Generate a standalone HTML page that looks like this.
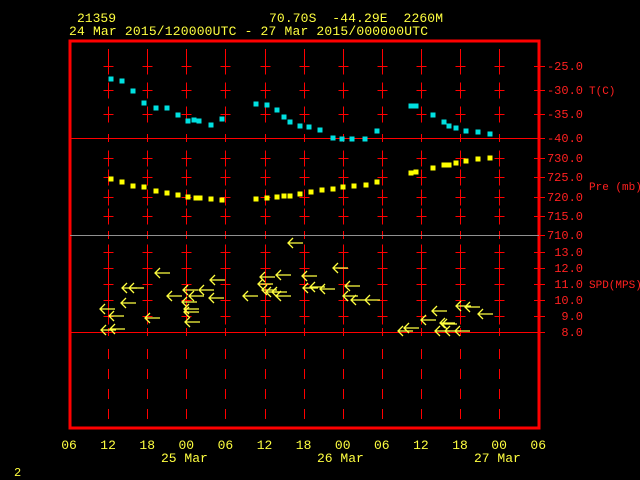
<!DOCTYPE html>
<html><head><meta charset="utf-8"><style>
html,body{margin:0;padding:0;background:#000;width:640px;height:480px;overflow:hidden}
text{font-family:"Liberation Mono",monospace}
</style></head><body>
<svg width="640" height="480" xmlns="http://www.w3.org/2000/svg" id="s">
<rect width="640" height="480" fill="#000"/>
<g fill="#ffff40" font-size="13">
<text x="77" y="22" textLength="39">21359</text>
<text x="269" y="22" textLength="174" xml:space="preserve">70.70S  -44.29E  2260M</text>
<text x="69" y="35" textLength="359">24 Mar 2015/120000UTC - 27 Mar 2015/000000UTC</text>
<text x="14" y="476" font-size="12">2</text>
</g>
<g id="grid" stroke="#ff0000" stroke-width="1" fill="none" shape-rendering="crispEdges"></g>
<rect x="70" y="41" width="469" height="387" fill="none" stroke="#ff0000" stroke-width="3" shape-rendering="crispEdges"/>
<g stroke="#ff0000" stroke-width="1" shape-rendering="crispEdges">
<line x1="70" y1="138.5" x2="539" y2="138.5"/>
<line x1="70" y1="235.5" x2="539" y2="235.5" stroke="#909090"/>
<line x1="70" y1="332.5" x2="539" y2="332.5"/>
</g>
<g id="rl" fill="#ff2020" font-size="12"></g>
<g fill="#ff2020" font-size="11">
<text x="589" y="94">T(C)</text>
<text x="589" y="190">Pre (mb)</text>
<text x="589" y="288">SPD(MPS)</text>
</g>
<g id="xl" fill="#ffff40" font-size="13"></g>
<g fill="#ffff40" font-size="13">
<text x="161" y="462">25 Mar</text>
<text x="317" y="462">26 Mar</text>
<text x="474" y="462">27 Mar</text>
</g>
<g id="T" fill="#00e0e0"></g>
<g id="P" fill="#ffff00"></g>
<g id="W" stroke="#ffff40" stroke-width="1.3" fill="none"></g>
</svg>
<script>
var NS="http://www.w3.org/2000/svg";
function el(p,t,a,txt){var e=document.createElementNS(NS,t);for(var k in a)e.setAttribute(k,a[k]);if(txt)e.textContent=txt;document.getElementById(p).appendChild(e);}
var ys=[66,90,114,158,177,197,216,252,268,284,300,316];
var xs=[];for(var i=1;i<12;i++)xs.push(Math.round(69+i*39.1)+0.5);
xs.forEach(function(x){
 el("grid","line",{x1:x,y1:49,x2:x,y2:59});
 ys.forEach(function(y){y+=0.5;el("grid","line",{x1:x,y1:y-8,x2:x,y2:y+8});el("grid","line",{x1:x-5,y1:y,x2:x+5,y2:y});});
 [138,235,332].forEach(function(y){el("grid","line",{x1:x,y1:y-4,x2:x,y2:y+4});});
 [349,369,389,409].forEach(function(y){el("grid","line",{x1:x,y1:y,x2:x,y2:y+10});});
});
var lab=["-25.0","-30.0","-35.0","-40.0","730.0","725.0","720.0","715.0","710.0","13.0","12.0","11.0","10.0","9.0","8.0"];
var ly=[66,90,114,138,158,177,197,216,235,252,268,284,300,316,332];
lab.forEach(function(t,i){el("grid","line",{x1:534,y1:ly[i]+0.5,x2:545,y2:ly[i]+0.5});el("rl","text",{x:583,y:ly[i]+4,"text-anchor":"end"},t);});
var xt=["06","12","18","00","06","12","18","00","06","12","18","00","06"];
xt.forEach(function(t,i){el("xl","text",{x:69+i*39.1,y:449,"text-anchor":"middle"},t);});
var T=[[111,79],[122,81],[133,91],[144,103],[156,108],[167,108],[178,115],[188,121],[194,120],[199,121],[211,125],[222,119],[256,104],[267,105],[277,110],[284,117],[290,122],[300,126],[309,127],[320,130],[333,138],[342,139],[352,139],[365,139],[377,131],[411,106],[416,106],[433,115],[444,122],[449,126],[456,128],[466,131],[478,132],[490,134]];
T.forEach(function(p){el("T","rect",{x:p[0]-2.5,y:p[1]-2.5,width:5,height:5});});
var P=[[111,179],[122,182],[133,186],[144,187],[156,191],[167,193],[178,195],[188,197],[196,198],[200,198],[211,199],[222,200],[256,199],[267,198],[277,197],[284,196],[290,196],[300,194],[311,192],[322,190],[333,189],[343,187],[354,186],[366,185],[377,182],[411,173],[416,172],[433,168],[444,165],[449,165],[456,163],[466,161],[478,159],[490,158]];
P.forEach(function(p){el("P","rect",{x:p[0]-2.5,y:p[1]-2.5,width:5,height:5});});
var W=[[100,309],[109,316],[101,330],[110,329],[122,288],[129,288],[121,303],[145,318],[155,273],[167,296],[183,290],[182,302],[184,309],[184,312],[185,322],[189,296],[199,290],[209,298],[210,280],[243,296],[258,284],[260,277],[262,290],[266,292],[276,275],[272,292],[276,296],[288,243],[302,276],[303,288],[310,287],[320,289],[333,268],[343,296],[345,286],[351,300],[365,300],[398,331],[404,328],[432,311],[421,320],[440,323],[442,324],[435,331],[445,331],[455,331],[456,306],[465,307],[478,314]];
W.forEach(function(p){var x=p[0],y=p[1];el("W","path",{d:"M"+x+" "+y+"h15M"+(x+5)+" "+(y-5)+"L"+x+" "+y+"L"+(x+5)+" "+(y+5)});});
</script>
</body></html>
